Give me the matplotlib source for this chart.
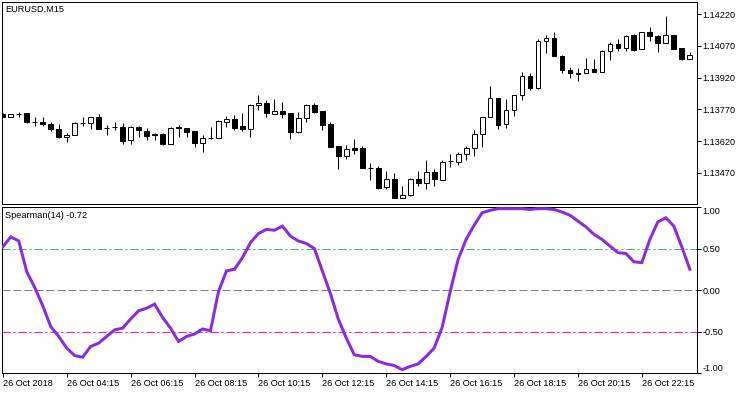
import numpy as np
import matplotlib
matplotlib.use("Agg")
import matplotlib.pyplot as plt

# chart text
symbol_label = "EURUSD,M15"
indicator_label = "Spearman(14) -0.72"

# candles (EURUSD M15, 26 Oct 2018 from 02:15)
opens = [
    1.13750, 1.13734, 1.13748, 1.13751, 1.13712, 1.13710, 1.13701, 1.13677, 1.13638, 1.13647,
    1.13704, 1.13706, 1.13732, 1.13683, 1.13687, 1.13687, 1.13624, 1.13687, 1.13668, 1.13652,
    1.13653, 1.13605, 1.13685, 1.13680, 1.13668, 1.13610, 1.13635, 1.13635, 1.13712, 1.13724,
    1.13690, 1.13676, 1.13789, 1.13798, 1.13749, 1.13762, 1.13751, 1.13665, 1.13728, 1.13789,
    1.13761, 1.13701, 1.13597, 1.13551, 1.13589, 1.13587, 1.13494, 1.13492, 1.13402, 1.13440,
    1.13353, 1.13364, 1.13440, 1.13421, 1.13473, 1.13438, 1.13525, 1.13523, 1.13558, 1.13586,
    1.13652, 1.13732, 1.13822, 1.13699, 1.13765, 1.13836, 1.13926, 1.13872, 1.14091, 1.14105,
    1.14020, 1.13956, 1.13940, 1.13943, 1.13959, 1.13945, 1.14044, 1.14078, 1.14058, 1.14122,
    1.14053, 1.14134, 1.14116, 1.14082, 1.14122, 1.14059, 1.14009]
highs = [
    1.13753, 1.13750, 1.13757, 1.13751, 1.13735, 1.13732, 1.13710, 1.13699, 1.13660, 1.13709,
    1.13732, 1.13735, 1.13746, 1.13695, 1.13710, 1.13704, 1.13691, 1.13690, 1.13683, 1.13660,
    1.13657, 1.13688, 1.13695, 1.13683, 1.13668, 1.13649, 1.13687, 1.13718, 1.13739, 1.13745,
    1.13753, 1.13795, 1.13838, 1.13814, 1.13819, 1.13805, 1.13751, 1.13757, 1.13794, 1.13800,
    1.13761, 1.13710, 1.13597, 1.13600, 1.13630, 1.13597, 1.13517, 1.13502, 1.13479, 1.13470,
    1.13408, 1.13444, 1.13477, 1.13531, 1.13487, 1.13531, 1.13559, 1.13570, 1.13597, 1.13672,
    1.13734, 1.13880, 1.13822, 1.13819, 1.13838, 1.13946, 1.13941, 1.14101, 1.14121, 1.14135,
    1.14025, 1.13968, 1.13964, 1.14012, 1.14008, 1.14050, 1.14089, 1.14102, 1.14121, 1.14126,
    1.14134, 1.14160, 1.14121, 1.14212, 1.14122, 1.14059, 1.14039]
lows = [
    1.13734, 1.13734, 1.13734, 1.13707, 1.13693, 1.13693, 1.13669, 1.13636, 1.13617, 1.13647,
    1.13691, 1.13676, 1.13676, 1.13650, 1.13672, 1.13608, 1.13608, 1.13640, 1.13624, 1.13624,
    1.13603, 1.13605, 1.13641, 1.13641, 1.13594, 1.13570, 1.13630, 1.13635, 1.13688, 1.13672,
    1.13668, 1.13641, 1.13767, 1.13735, 1.13746, 1.13730, 1.13631, 1.13660, 1.13712, 1.13754,
    1.13672, 1.13594, 1.13490, 1.13536, 1.13561, 1.13494, 1.13436, 1.13394, 1.13395, 1.13353,
    1.13350, 1.13361, 1.13408, 1.13392, 1.13408, 1.13435, 1.13499, 1.13509, 1.13529, 1.13550,
    1.13594, 1.13732, 1.13679, 1.13680, 1.13740, 1.13815, 1.13863, 1.13867, 1.14034, 1.14020,
    1.13940, 1.13919, 1.13905, 1.13943, 1.13945, 1.13945, 1.14003, 1.14047, 1.14047, 1.14047,
    1.14053, 1.14094, 1.14041, 1.14082, 1.14053, 1.14004, 1.14006]
closes = [
    1.13734, 1.13750, 1.13747, 1.13712, 1.13711, 1.13699, 1.13676, 1.13640, 1.13650, 1.13706,
    1.13705, 1.13732, 1.13679, 1.13682, 1.13686, 1.13622, 1.13687, 1.13671, 1.13645, 1.13651,
    1.13608, 1.13682, 1.13684, 1.13665, 1.13610, 1.13635, 1.13634, 1.13713, 1.13723, 1.13683,
    1.13677, 1.13789, 1.13798, 1.13751, 1.13761, 1.13749, 1.13665, 1.13728, 1.13789, 1.13759,
    1.13697, 1.13594, 1.13551, 1.13581, 1.13579, 1.13495, 1.13493, 1.13399, 1.13440, 1.13353,
    1.13364, 1.13441, 1.13422, 1.13473, 1.13440, 1.13520, 1.13524, 1.13559, 1.13589, 1.13653,
    1.13734, 1.13822, 1.13697, 1.13765, 1.13836, 1.13926, 1.13872, 1.14092, 1.14105, 1.14020,
    1.13957, 1.13940, 1.13939, 1.13959, 1.13945, 1.14044, 1.14078, 1.14058, 1.14115, 1.14050,
    1.14134, 1.14115, 1.14082, 1.14122, 1.14056, 1.14008, 1.14026]

# Spearman(14) indicator values, one per candle
spearman = [
    0.52, 0.64, 0.59, 0.22, 0.03, -0.19, -0.44, -0.56, -0.70, -0.79,
    -0.81, -0.68, -0.64, -0.56, -0.48, -0.46, -0.35, -0.25, -0.22, -0.17,
    -0.33, -0.46, -0.62, -0.56, -0.53, -0.47, -0.49, -0.02, 0.23, 0.25,
    0.39, 0.57, 0.68, 0.73, 0.72, 0.77, 0.65, 0.59, 0.56, 0.50,
    0.23, -0.04, -0.35, -0.58, -0.78, -0.80, -0.80, -0.86, -0.89, -0.91,
    -0.96, -0.92, -0.89, -0.80, -0.70, -0.45, -0.02, 0.37, 0.61, 0.78,
    0.93, 0.96, 0.98, 0.98, 0.98, 0.98, 0.97, 0.98, 0.98, 0.97,
    0.94, 0.90, 0.83, 0.76, 0.67, 0.61, 0.53, 0.45, 0.44, 0.34,
    0.33, 0.61, 0.82, 0.87, 0.77, 0.52, 0.25]

# axis labels
price_ticks = [1.13470, 1.13620, 1.13770, 1.13920, 1.14070, 1.14220]
level_ticks = [1.0, 0.5, 0.0, -0.5, -1.0]
time_tick_bars = [0, 8, 16, 24, 32, 40, 48, 56, 64, 72, 80]
time_labels = ["26 Oct 2018", "26 Oct 04:15", "26 Oct 06:15", "26 Oct 08:15",
               "26 Oct 10:15", "26 Oct 12:15", "26 Oct 14:15", "26 Oct 16:15",
               "26 Oct 18:15", "26 Oct 20:15", "26 Oct 22:15"]

# indicator levels
levels = [0.5, 0.0, -0.5]
level_colors = ["#3CB371", "#808080", "#FF00FF"]
level_styles = [(0, (8, 3, 2, 3)), (0, (8, 3)), (0, (8, 3, 2, 3))]

W, H = 750, 394
px = 0.72  # one pixel in points at 100 dpi
plt.rcParams.update({
    "font.family": ["Liberation Sans", "DejaVu Sans"],
    "font.size": 6.6,
})

fig = plt.figure(figsize=(W / 100, H / 100), dpi=100)
ax_p = fig.add_axes([2 / W, 1 - 204 / H, 695 / W, 202 / H])
ax_i = fig.add_axes([2 / W, 1 - 373 / H, 695 / W, 166 / H])

x = np.arange(len(opens))
o = np.array(opens)
c = np.array(closes)
up = c >= o

# candles: wicks then bodies
ax_p.vlines(x, lows, highs, color="black", linewidth=px, zorder=1)
ax_p.bar(x, np.abs(c - o), bottom=np.minimum(o, c), width=0.6,
         color=np.where(up, "white", "black"), edgecolor="black",
         linewidth=px, zorder=2)

ax_p.set_xlim(-0.1, 86.9)
ax_p.set_ylim(1.13323, 1.14277)
ax_p.set_xticks([])
ax_p.yaxis.tick_right()
ax_p.set_yticks(price_ticks)
ax_p.set_yticklabels([f"{v:.5f}" for v in price_ticks])

# indicator window
for lv, col, ls in zip(levels, level_colors, level_styles):
    ax_i.axhline(lv, color=col, linestyle=ls, linewidth=px, zorder=1)
ax_i.plot(x, spearman, color="#8A2BE2", linewidth=3 * px, zorder=3,
          solid_joinstyle="miter")
ax_i.set_xlim(-0.1, 86.9)
ax_i.set_ylim(-1.0, 1.0)
ax_i.yaxis.tick_right()
ax_i.set_yticks(level_ticks)
ax_i.set_yticklabels([f"{v:.2f}" for v in level_ticks])
lbls = ax_i.get_yticklabels()
lbls[0].set_va("top")
lbls[-1].set_va("bottom")
ax_i.set_xticks(time_tick_bars)
ax_i.set_xticklabels(time_labels, ha="left")

for ax in (ax_p, ax_i):
    for s in ax.spines.values():
        s.set_linewidth(px)
        s.set_color("black")
    ax.tick_params(direction="out", length=3, width=px, pad=1,
                   colors="black", labelsize=6.6)

fig.text(5 / W, 1 - 9 / H, symbol_label, va="center", ha="left", fontsize=6.6)
fig.text(5 / W, 1 - 216 / H, indicator_label, va="center", ha="left", fontsize=6.6)

fig.savefig("out.png", dpi=100, facecolor="white")
